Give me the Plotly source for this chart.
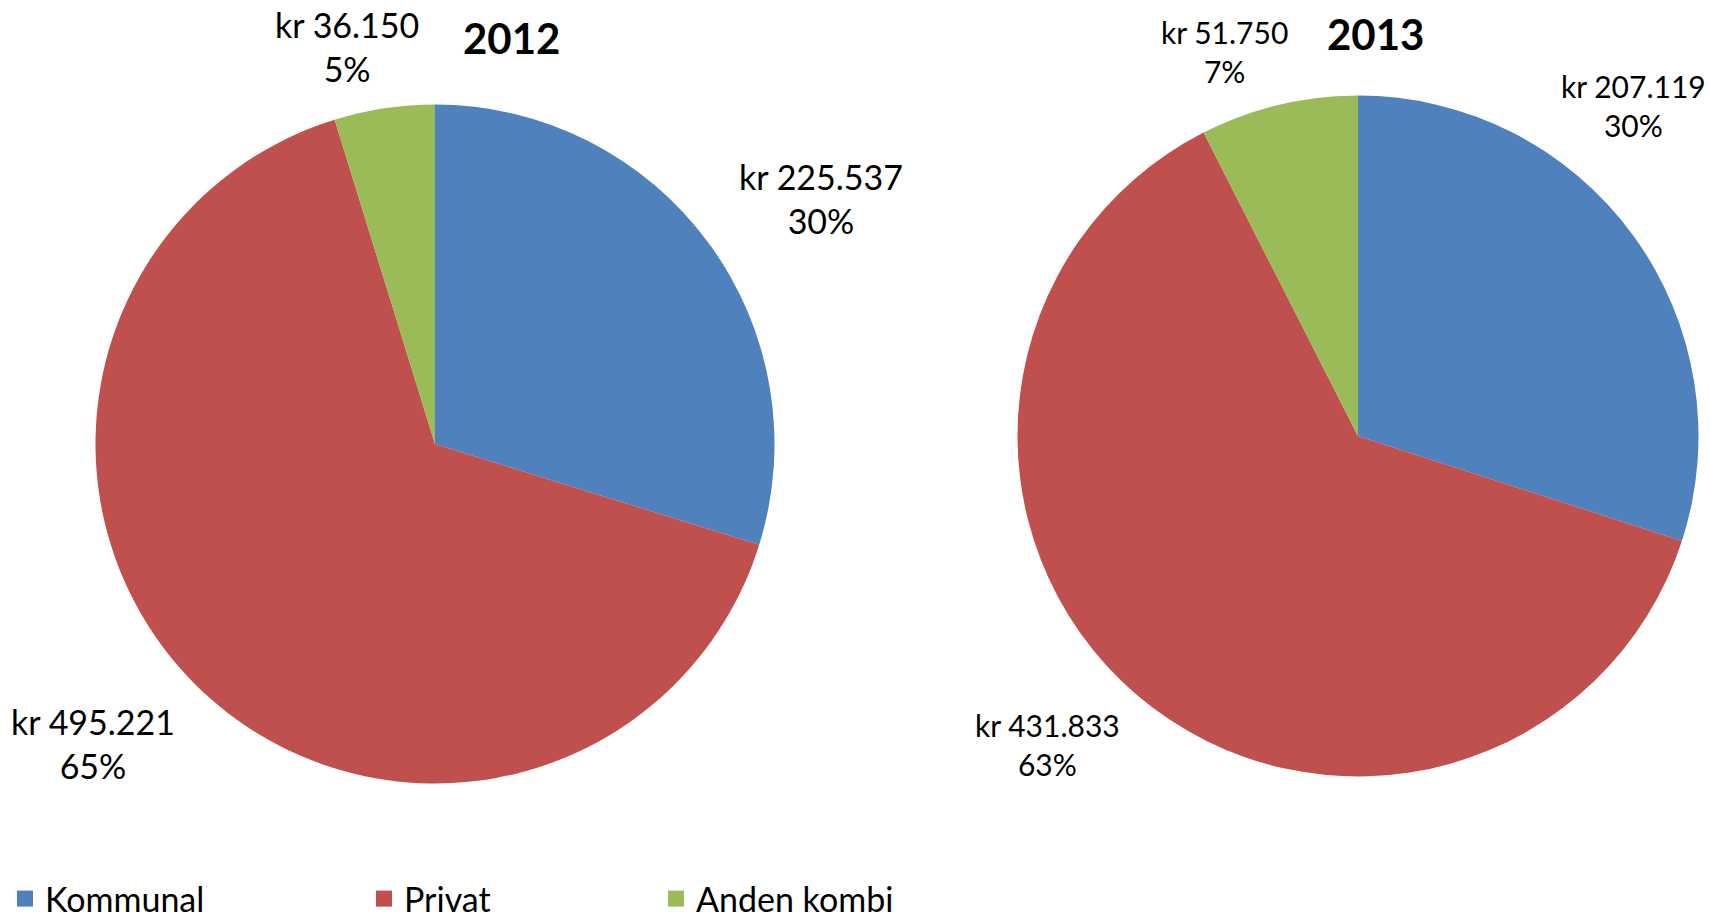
import plotly.graph_objects as go

categories = ["Kommunal", "Privat", "Anden kombi"]
values_2012 = [225537, 495221, 36150]
values_2013 = [207119, 431833, 51750]
years = ["2012", "2013"]
colors = ["#4F81BD", "#C0504D", "#9BBB59"]

FONT = "Lato"
W, H = 1710, 924


def fmt_kr(v):
    return "kr " + f"{v:,}".replace(",", ".")


def pct(v, vals):
    return f"{round(100 * v / sum(vals))}%"


def px(x):
    return x / W


def py(y):
    return 1 - y / H


def domain(cx, cy, r):
    return dict(x=[px(cx - r), px(cx + r)], y=[py(cy + r), py(cy - r)])


fig = go.Figure()

pie_geom = {"2012": (435, 444, 339.5), "2013": (1358, 436, 340.5)}

for vals, yr in zip([values_2012, values_2013], years):
    fig.add_trace(go.Pie(
        labels=categories, values=vals, sort=False, direction="clockwise",
        rotation=0, marker=dict(colors=colors, line=dict(width=0)),
        textinfo="none", hoverinfo="label+value+percent",
        domain=domain(*pie_geom[yr]), name=yr, showlegend=False,
    ))

# legend entries (one legend per category, placed like the original)
legend_names = ["legend", "legend2", "legend3"]
for cat, col, lg in zip(categories, colors, legend_names):
    fig.add_trace(go.Scatter(
        x=[None], y=[None], mode="markers", name=cat, legend=lg,
        marker=dict(symbol="square", size=16, color=col), showlegend=True,
        hoverinfo="skip",
    ))

legend_x = [5, 364, 656]
legend_style = dict(
    orientation="h", xanchor="left", y=py(899), yanchor="middle",
    font=dict(family=FONT, size=34, color="black"), bgcolor="rgba(0,0,0,0)",
)

# label positions (px) for each year's slices
label_pos = {
    "2012": [(821, 198), (93, 743), (347, 47)],
    "2013": [(1633, 105), (1047, 744), (1224, 52)],
}
label_size = {"2012": 34, "2013": 30}

annotations = []
for yr, vals in zip(years, [values_2012, values_2013]):
    for v, (x, y) in zip(vals, label_pos[yr]):
        annotations.append(dict(
            x=px(x), y=py(y), xref="paper", yref="paper", showarrow=False,
            text=fmt_kr(v) + "<br>" + pct(v, vals),
            font=dict(family=FONT, size=label_size[yr], color="black"),
            xanchor="center", yanchor="middle", align="center",
        ))

title_pos = {"2012": (511, 38), "2013": (1375, 34)}
for yr in years:
    x, y = title_pos[yr]
    annotations.append(dict(
        x=px(x), y=py(y), xref="paper", yref="paper", showarrow=False,
        text=f"<b>{yr}</b>", font=dict(family=FONT, size=42, color="black"),
        xanchor="center", yanchor="middle",
    ))

layout_legends = {}
for lg, lx in zip(legend_names, legend_x):
    layout_legends[lg] = dict(legend_style, x=px(lx))

fig.update_layout(
    width=W, height=H,
    margin=dict(l=0, r=0, t=0, b=0, autoexpand=False),
    paper_bgcolor="white", plot_bgcolor="white",
    font=dict(family=FONT, color="black"),
    annotations=annotations,
    xaxis=dict(visible=False), yaxis=dict(visible=False),
    **layout_legends,
)

fig.write_html(
    "out.html",
    config={"displayModeBar": False},
    post_script="document.body.style.margin='0';",
)
